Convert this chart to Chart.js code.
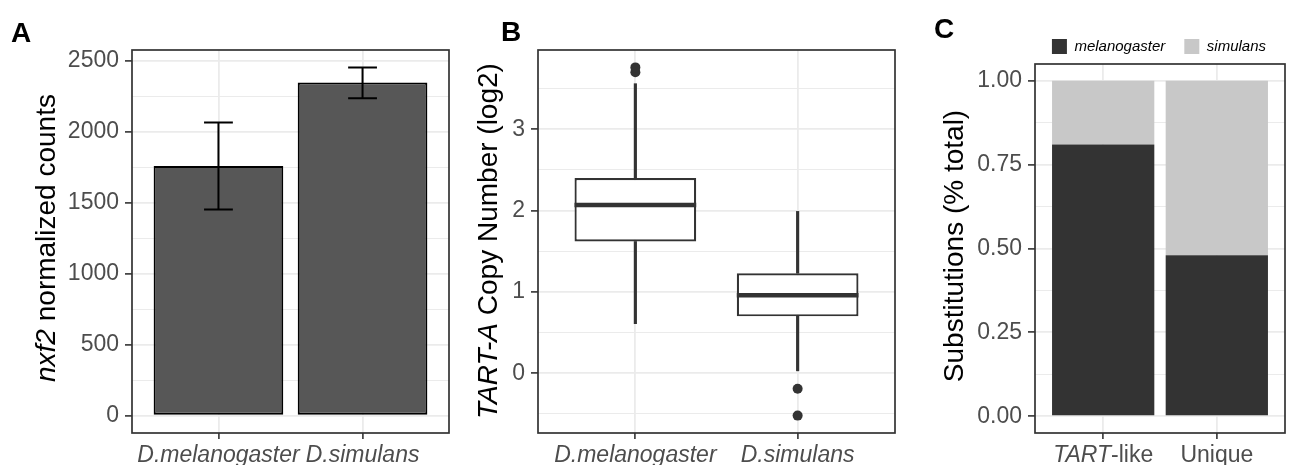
<!DOCTYPE html>
<html>
<head>
<meta charset="utf-8">
<script src="https://cdn.jsdelivr.net/npm/chart.js@4.4.1/dist/chart.umd.min.js"></script>
<style>
    html, body { margin: 0; padding: 0; background: #fff; }
    #wrap { position: relative; width: 1290px; height: 465px; overflow: hidden; font-family: 'Liberation Sans', Arial, sans-serif; }
    canvas { position: absolute; top: 0; }
    .tag { position: absolute; font-weight: bold; font-size: 28px; line-height: 1; color: #000; }
    .ytitle { position: absolute; font-size: 28px; line-height: 1; white-space: nowrap; color: #000;
              transform: translate(-50%, -50%) rotate(-90deg); }
</style>
</head>
<body>
<div id="wrap">
    <canvas id="cA" width="460" height="465" style="left:0"></canvas>
    <canvas id="cB" width="440" height="465" style="left:460px"></canvas>
    <canvas id="cC" width="390" height="465" style="left:900px"></canvas>

    <div class="tag" style="left:11px;top:19px">A</div>
    <div class="tag" style="left:501px;top:18px">B</div>
    <div class="tag" style="left:934px;top:15px">C</div>

    <div class="ytitle" style="left:46px;top:238px"><i>nxf2</i> normalized counts</div>
    <div class="ytitle" style="left:488px;top:241px"><i>TART-A</i> Copy Number (log2)</div>
    <div class="ytitle" style="left:954px;top:246px">Substitutions (% total)</div>
</div>

<script>
// Panel A: nxf2 counts
const speciesA = ['D.melanogaster', 'D.simulans'];
const nxf2Mean = [1760, 2349];
const nxf2Low = [1454, 2238];
const nxf2High = [2067, 2455];
const ticksA = [0, 500, 1000, 1500, 2000, 2500];
const minorA = [250, 750, 1250, 1750, 2250];

// Panel B: TART-A copy number boxplot
const speciesB = ['D.melanogaster', 'D.simulans'];
const tartMin = [0.61, 0.03];
const tartQ1 = [1.62, 0.70];
const tartMedian = [2.07, 0.96];
const tartQ3 = [2.40, 1.23];
const tartMax = [3.56, 1.99];
const outlierGroup = [1, 1, 2, 2];
const outlierValue = [3.70, 3.76, -0.19, -0.52];
const ticksB = [0, 1, 2, 3];
const minorB = [-0.5, 0.5, 1.5, 2.5, 3.5];

// Panel C: substitutions
const classesC = ['TART-like', 'Unique'];
const classItalicPrefix = ['TART', ''];
const melFrac = [0.81, 0.48];
const simFrac = [0.19, 0.52];
const ticksC = [0, 0.25, 0.5, 0.75, 1];
const minorC = [0.125, 0.375, 0.625, 0.875];

const FONT = "'Liberation Sans', Arial, sans-serif";
const GRID = '#ebebeb';
const INK = '#333333';
const TICK_SIZE = 23;

function yScale(lo, hi, major, minor, fmt, width) {
    const pad = (hi - lo) * 0.05;
    const isMinor = v => minor.indexOf(v) >= 0;
    return {
        type: 'linear',
        min: lo - pad,
        max: hi + pad,
        beginAtZero: false,
        afterBuildTicks: ax => {
            ax.ticks = major.concat(minor).sort((a, b) => a - b).map(v => ({ value: v }));
        },
        afterFit: ax => { ax.width = width; },
        border: { display: false },
        grid: {
            color: GRID,
            lineWidth: c => (c.tick && isMinor(c.tick.value)) ? 1 : 1.8,
            tickColor: c => (c.tick && isMinor(c.tick.value)) ? 'rgba(0,0,0,0)' : INK,
            tickLength: 7,
            tickWidth: 1.6
        },
        ticks: {
            autoSkip: false,
            padding: 6,
            color: '#4d4d4d',
            font: { family: FONT, size: TICK_SIZE },
            callback: v => isMinor(v) ? '' : fmt(v)
        }
    };
}

function xScale(labels, showLabels) {
    return {
        type: 'linear',
        min: 0.4,
        max: labels.length + 0.6,
        offset: false,
        afterBuildTicks: ax => { ax.ticks = labels.map((_, i) => ({ value: i + 1 })); },
        afterFit: ax => { ax.height = 32; },
        border: { display: false },
        grid: { offset: false, color: GRID, lineWidth: 1.8, tickColor: INK, tickLength: 6, tickWidth: 1.6 },
        ticks: {
            display: showLabels,
            autoSkip: false,
            maxRotation: 0,
            padding: 3,
            color: '#4d4d4d',
            font: { family: FONT, size: TICK_SIZE, style: 'italic' },
            callback: v => labels[v - 1]
        }
    };
}

const framePlugin = {
    id: 'frame',
    afterDraw(chart) {
        const { ctx, chartArea: a } = chart;
        ctx.save();
        ctx.strokeStyle = INK;
        ctx.lineWidth = 1.7;
        ctx.strokeRect(a.left, a.top, a.right - a.left, a.bottom - a.top);
        ctx.restore();
    }
};

// error bars for panel A
const errorBarPlugin = {
    id: 'errorBars',
    afterDatasetsDraw(chart) {
        const { ctx, scales: { x, y } } = chart;
        ctx.save();
        ctx.strokeStyle = '#000';
        ctx.lineWidth = 2;
        nxf2Mean.forEach((_, i) => {
            const cx = x.getPixelForValue(i + 1);
            const half = x.getPixelForValue(i + 1.1) - cx;
            const top = y.getPixelForValue(nxf2High[i]);
            const bot = y.getPixelForValue(nxf2Low[i]);
            ctx.beginPath();
            ctx.moveTo(cx, top); ctx.lineTo(cx, bot);
            ctx.moveTo(cx - half, top); ctx.lineTo(cx + half, top);
            ctx.moveTo(cx - half, bot); ctx.lineTo(cx + half, bot);
            ctx.stroke();
        });
        ctx.restore();
    }
};

// median lines for panel B
const medianPlugin = {
    id: 'medians',
    afterDatasetsDraw(chart) {
        const { ctx, scales: { x, y } } = chart;
        ctx.save();
        ctx.strokeStyle = INK;
        ctx.lineWidth = 4.5;
        tartMedian.forEach((m, i) => {
            const py = y.getPixelForValue(m);
            ctx.beginPath();
            ctx.moveTo(x.getPixelForValue(i + 1 - 0.375), py);
            ctx.lineTo(x.getPixelForValue(i + 1 + 0.375), py);
            ctx.stroke();
        });
        ctx.restore();
    }
};

// mixed italic / upright category labels for panel C
const richLabelPlugin = {
    id: 'richLabels',
    afterDraw(chart) {
        const { ctx, scales: { x }, chartArea: a } = chart;
        ctx.save();
        ctx.fillStyle = '#4d4d4d';
        ctx.textBaseline = 'alphabetic';
        classesC.forEach((lab, i) => {
            const pre = classItalicPrefix[i];
            const rest = lab.slice(pre.length);
            ctx.font = `italic ${TICK_SIZE}px ${FONT}`;
            const w1 = ctx.measureText(pre).width;
            ctx.font = `${TICK_SIZE}px ${FONT}`;
            const w2 = ctx.measureText(rest).width;
            const sx = x.getPixelForValue(i + 1) - (w1 + w2) / 2;
            const by = a.bottom + 29;
            ctx.font = `italic ${TICK_SIZE}px ${FONT}`;
            ctx.fillText(pre, sx, by);
            ctx.font = `${TICK_SIZE}px ${FONT}`;
            ctx.fillText(rest, sx + w1, by);
        });
        ctx.restore();
    }
};

const noPlugins = { legend: { display: false }, tooltip: { enabled: false } };

// A
new Chart(document.getElementById('cA'), {
    type: 'bar',
    data: {
        datasets: [{
            data: speciesA.map((s, i) => ({ x: i + 1, y: nxf2Mean[i] })),
            backgroundColor: '#575757',
            borderColor: '#000',
            borderWidth: 2,
            borderSkipped: false,
            barPercentage: 0.9,
            categoryPercentage: 1
        }]
    },
    options: {
        responsive: false,
        animation: false,
        layout: { padding: { top: 50, right: 11, left: 0, bottom: 0 } },
        plugins: noPlugins,
        scales: {
            x: xScale(speciesA, true),
            y: yScale(0, Math.max(...nxf2High), ticksA, minorA, v => String(v), 132)
        }
    },
    plugins: [errorBarPlugin, framePlugin]
});

// B
const allB = tartMin.concat(tartMax, outlierValue);
new Chart(document.getElementById('cB'), {
    type: 'bar',
    data: {
        datasets: [{
            data: speciesB.map((s, i) => ({ x: i + 1, y: [tartQ3[i], tartMax[i]] })),
            backgroundColor: INK,
            barThickness: 2.5,
            grouped: false
        }, {
            data: speciesB.map((s, i) => ({ x: i + 1, y: [tartMin[i], tartQ1[i]] })),
            backgroundColor: INK,
            barThickness: 2.5,
            grouped: false
        }, {
            data: speciesB.map((s, i) => ({ x: i + 1, y: [tartQ1[i], tartQ3[i]] })),
            backgroundColor: '#fff',
            borderColor: INK,
            borderWidth: 2.2,
            borderSkipped: false,
            barPercentage: 0.75,
            categoryPercentage: 1,
            grouped: false
        }, {
            type: 'scatter',
            data: outlierGroup.map((g, i) => ({ x: g, y: outlierValue[i] })),
            pointRadius: 5,
            backgroundColor: INK,
            borderWidth: 0
        }]
    },
    options: {
        responsive: false,
        animation: false,
        layout: { padding: { top: 50, right: 4, left: 0, bottom: 0 } },
        plugins: noPlugins,
        scales: {
            x: xScale(speciesB, true),
            y: yScale(Math.min(...allB), Math.max(...allB), ticksB, minorB, v => String(v), 78)
        }
    },
    plugins: [medianPlugin, framePlugin]
});

// C
new Chart(document.getElementById('cC'), {
    type: 'bar',
    data: {
        datasets: [{
            label: 'melanogaster',
            data: classesC.map((c, i) => ({ x: i + 1, y: melFrac[i] })),
            backgroundColor: INK,
            borderWidth: 0,
            barPercentage: 0.9,
            categoryPercentage: 1,
            grouped: false
        }, {
            label: 'simulans',
            data: classesC.map((c, i) => ({ x: i + 1, y: simFrac[i] })),
            backgroundColor: '#c8c8c8',
            borderWidth: 0,
            barPercentage: 0.9,
            categoryPercentage: 1,
            grouped: false
        }]
    },
    options: {
        responsive: false,
        animation: false,
        layout: { padding: { top: 20, right: 5, left: 0, bottom: 0 } },
        plugins: {
            tooltip: { enabled: false },
            legend: {
                display: true,
                position: 'top',
                fullSize: true,
                align: 'end',
                labels: {
                    boxWidth: 15,
                    boxHeight: 15,
                    padding: 19,
                    color: '#000',
                    font: { family: FONT, size: 15, style: 'italic' }
                }
            }
        },
        scales: {
            x: xScale(classesC, false),
            y: Object.assign(yScale(0, 1, ticksC, minorC, v => v.toFixed(2), 135), { stacked: true })
        }
    },
    plugins: [richLabelPlugin, framePlugin]
});
</script>
</body>
</html>
